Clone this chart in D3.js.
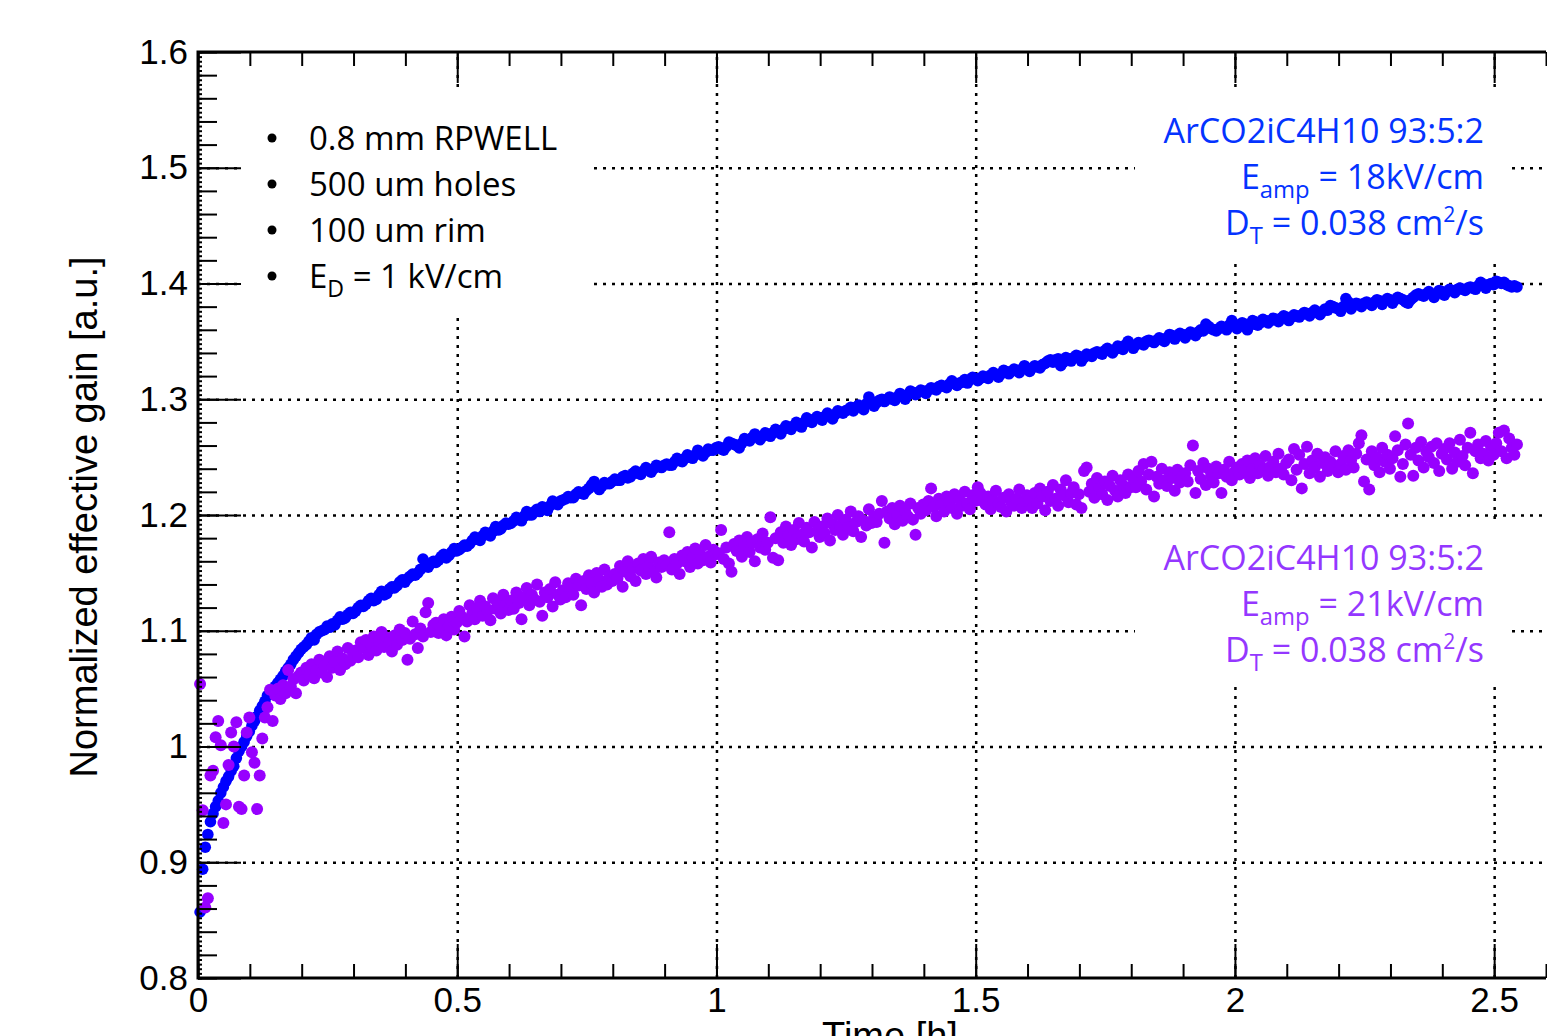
<!DOCTYPE html>
<html lang="en">
<head>
<meta charset="UTF-8">
<title>Normalized effective gain vs time</title>
<style>
  body { margin: 0; background: #fff; }
  svg { display: block; }
</style>
</head>
<body>
<script src="https://cdn.jsdelivr.net/npm/d3@7/dist/d3.min.js"></script>
<script>
// canvas
const width = 1547;
const height = 1036;

// sampling of the two runs (hours)
const blueStart = 0.004, blueStep = 0.005;
const purpleStart = 0.004, purpleStep = 0.005;

// normalized effective gain, E_amp = 18 kV/cm
const gain18 = [
  0.857,0.894,0.913,0.924,0.935,0.942,0.948,0.953,0.960,0.965,0.970,0.974,0.979,0.983,0.990,0.996,1.000,1.004,1.009,1.013,
  1.018,1.022,1.026,1.031,1.035,1.039,1.044,1.046,1.049,1.052,1.055,1.058,1.061,1.065,1.068,1.071,1.075,1.078,1.081,1.084,
  1.086,1.088,1.091,1.094,1.092,1.097,1.099,1.100,1.101,1.104,1.103,1.106,1.105,1.109,1.112,1.110,1.111,1.114,1.116,1.115,
  1.117,1.120,1.122,1.121,1.123,1.126,1.128,1.126,1.127,1.131,1.134,1.131,1.132,1.136,1.138,1.137,1.139,1.142,1.144,1.142,
  1.145,1.147,1.149,1.148,1.150,1.153,1.162,1.158,1.155,1.158,1.160,1.159,1.161,1.164,1.166,1.163,1.165,1.168,1.171,1.169,
  1.170,1.172,1.174,1.173,1.175,1.178,1.181,1.179,1.178,1.182,1.185,1.183,1.182,1.186,1.190,1.187,1.188,1.191,1.193,1.192,
  1.193,1.195,1.198,1.196,1.195,1.199,1.203,1.200,1.200,1.203,1.205,1.203,1.207,1.206,1.204,1.208,1.212,1.210,1.209,1.212,
  1.213,1.214,1.216,1.215,1.215,1.218,1.220,1.219,1.218,1.221,1.223,1.226,1.229,1.225,1.222,1.225,1.228,1.227,1.227,1.229,
  1.231,1.230,1.230,1.233,1.234,1.232,1.233,1.236,1.238,1.236,1.235,1.238,1.241,1.239,1.237,1.240,1.243,1.242,1.241,1.243,
  1.244,1.243,1.243,1.246,1.249,1.247,1.246,1.249,1.252,1.250,1.249,1.252,1.256,1.253,1.251,1.254,1.257,1.256,1.256,1.258,
  1.259,1.257,1.256,1.259,1.263,1.262,1.261,1.260,1.258,1.262,1.266,1.265,1.264,1.267,1.270,1.268,1.265,1.268,1.271,1.270,
  1.268,1.271,1.274,1.272,1.270,1.274,1.277,1.276,1.274,1.277,1.280,1.278,1.276,1.280,1.284,1.282,1.280,1.283,1.285,1.284,
  1.282,1.285,1.288,1.286,1.283,1.287,1.290,1.289,1.288,1.290,1.291,1.293,1.290,1.293,1.295,1.293,1.291,1.296,1.302,1.298,
  1.294,1.297,1.299,1.300,1.298,1.300,1.302,1.300,1.299,1.302,1.305,1.303,1.300,1.304,1.307,1.306,1.304,1.306,1.308,1.307,
  1.305,1.308,1.310,1.309,1.308,1.311,1.312,1.311,1.310,1.313,1.316,1.314,1.312,1.314,1.315,1.317,1.314,1.317,1.319,1.318,
  1.316,1.318,1.320,1.319,1.318,1.321,1.323,1.321,1.319,1.322,1.325,1.324,1.322,1.324,1.326,1.325,1.323,1.326,1.329,1.327,
  1.324,1.327,1.329,1.328,1.327,1.330,1.331,1.333,1.334,1.332,1.334,1.335,1.329,1.332,1.336,1.335,1.333,1.336,1.338,1.337,
  1.333,1.336,1.339,1.338,1.337,1.340,1.341,1.340,1.339,1.342,1.344,1.342,1.340,1.343,1.346,1.345,1.343,1.347,1.350,1.347,
  1.344,1.347,1.349,1.348,1.347,1.350,1.351,1.350,1.349,1.351,1.353,1.352,1.350,1.353,1.356,1.355,1.352,1.355,1.357,1.356,
  1.353,1.356,1.358,1.357,1.355,1.358,1.360,1.359,1.365,1.363,1.361,1.360,1.359,1.361,1.363,1.362,1.360,1.364,1.368,1.365,
  1.361,1.364,1.366,1.365,1.360,1.364,1.368,1.367,1.364,1.366,1.369,1.368,1.366,1.368,1.370,1.369,1.367,1.370,1.372,1.371,
  1.368,1.371,1.373,1.372,1.371,1.373,1.375,1.374,1.372,1.375,1.377,1.375,1.373,1.376,1.378,1.377,1.381,1.380,1.379,1.378,
  1.376,1.380,1.387,1.384,1.378,1.381,1.383,1.382,1.380,1.383,1.384,1.383,1.381,1.384,1.386,1.385,1.382,1.385,1.387,1.386,
  1.383,1.386,1.388,1.387,1.386,1.384,1.383,1.386,1.388,1.390,1.391,1.390,1.389,1.391,1.393,1.391,1.388,1.391,1.394,1.393,
  1.390,1.393,1.395,1.394,1.392,1.395,1.396,1.395,1.394,1.396,1.397,1.396,1.395,1.398,1.401,1.399,1.396,1.399,1.400,1.399,
  1.402,1.401,1.400,1.401,1.399,1.398,1.397,1.398,1.397
];

// normalized effective gain, E_amp = 21 kV/cm
const gain21 = [
  1.054,0.945,0.861,0.869,0.975,0.979,1.008,1.022,1.001,0.934,0.950,0.984,1.012,1.000,1.021,0.948,0.946,0.975,1.012,1.025,
  0.995,0.986,0.946,0.975,1.007,1.025,1.034,1.049,1.022,1.044,1.050,1.041,1.053,1.046,1.066,1.052,1.058,1.046,1.061,1.064,
  1.057,1.068,1.062,1.071,1.059,1.066,1.075,1.064,1.070,1.060,1.078,1.068,1.073,1.082,1.066,1.076,1.071,1.085,1.074,1.079,
  1.083,1.077,1.090,1.085,1.092,1.079,1.088,1.095,1.083,1.091,1.099,1.086,1.094,1.090,1.082,1.096,1.088,1.101,1.092,1.098,
  1.075,1.093,1.108,1.097,1.085,1.102,1.095,1.116,1.124,1.099,1.105,1.107,1.098,1.103,1.110,1.096,1.104,1.112,1.101,1.107,
  1.117,1.112,1.095,1.108,1.122,1.115,1.110,1.119,1.126,1.113,1.121,1.117,1.109,1.128,1.119,1.124,1.115,1.131,1.122,1.118,
  1.126,1.119,1.133,1.124,1.110,1.129,1.137,1.122,1.131,1.127,1.140,1.125,1.113,1.133,1.129,1.136,1.121,1.142,1.131,1.127,
  1.135,1.129,1.141,1.137,1.131,1.145,1.139,1.122,1.143,1.136,1.148,1.141,1.133,1.150,1.144,1.138,1.153,1.140,1.147,1.143,
  1.149,1.145,1.156,1.138,1.151,1.160,1.147,1.154,1.143,1.158,1.152,1.162,1.149,1.156,1.164,1.151,1.146,1.159,1.155,1.161,
  1.157,1.185,1.153,1.162,1.158,1.149,1.165,1.160,1.168,1.155,1.163,1.171,1.158,1.166,1.161,1.174,1.164,1.159,1.170,1.166,
  1.167,1.187,1.162,1.172,1.158,1.151,1.175,1.169,1.178,1.164,1.173,1.181,1.168,1.176,1.160,1.179,1.172,1.184,1.170,1.176,
  1.198,1.163,1.180,1.161,1.185,1.176,1.190,1.182,1.174,1.187,1.179,1.193,1.183,1.177,1.189,1.185,1.172,1.194,1.186,1.181,
  1.190,1.184,1.197,1.178,1.192,1.187,1.200,1.191,1.183,1.196,1.189,1.203,1.186,1.194,1.199,1.181,1.195,1.191,1.205,1.193,
  1.198,1.194,1.201,1.212,1.176,1.203,1.197,1.206,1.192,1.200,1.208,1.195,1.203,1.199,1.210,1.196,1.183,1.206,1.201,1.209,
  1.204,1.212,1.223,1.207,1.199,1.214,1.209,1.203,1.216,1.211,1.206,1.218,1.201,1.213,1.208,1.220,1.210,1.205,1.217,1.212,
  1.224,1.219,1.212,1.209,1.216,1.205,1.213,1.221,1.210,1.207,1.215,1.203,1.218,1.211,1.208,1.214,1.222,1.206,1.212,1.217,
  1.213,1.206,1.219,1.210,1.223,1.216,1.204,1.220,1.212,1.226,1.214,1.208,1.222,1.217,1.230,1.211,1.219,1.224,1.209,1.218,
  1.206,1.238,1.241,1.220,1.227,1.215,1.232,1.223,1.218,1.229,1.213,1.225,1.234,1.221,1.216,1.230,1.226,1.219,1.235,1.224,
  1.231,1.224,1.238,1.229,1.244,1.222,1.235,1.246,1.216,1.233,1.227,1.240,1.230,1.225,1.237,1.232,1.221,1.239,1.228,1.234,
  1.236,1.229,1.243,1.260,1.219,1.238,1.231,1.245,1.226,1.240,1.234,1.228,1.242,1.236,1.219,1.239,1.233,1.246,1.230,1.237,
  1.241,1.235,1.244,1.238,1.247,1.232,1.240,1.249,1.236,1.243,1.239,1.251,1.234,1.242,1.246,1.237,1.253,1.240,1.235,1.245,
  1.248,1.230,1.257,1.239,1.252,1.223,1.244,1.259,1.236,1.247,1.241,1.253,1.233,1.245,1.250,1.238,1.246,1.242,1.255,1.237,
  1.244,1.251,1.239,1.256,1.247,1.241,1.253,1.262,1.269,1.229,1.248,1.222,1.255,1.243,1.250,1.237,1.258,1.246,1.252,1.240,
  1.249,1.268,1.256,1.233,1.244,1.261,1.279,1.252,1.234,1.258,1.247,1.263,1.241,1.255,1.250,1.259,1.245,1.262,1.238,1.253,
  1.257,1.248,1.262,1.240,1.254,1.246,1.265,1.251,1.243,1.258,1.271,1.236,1.255,1.261,1.249,1.253,1.264,1.247,1.259,1.252,
  1.262,1.271,1.255,1.273,1.249,1.266,1.258,1.252,1.261
];

// axes
const xTicks = [0, 0.5, 1, 1.5, 2, 2.5];
const yTicks = [0.8, 0.9, 1.0, 1.1, 1.2, 1.3, 1.4, 1.5, 1.6];

// text
const notes = ['0.8 mm RPWELL', '500 um holes', '100 um rim', 'E_{D} = 1 kV/cm'];
const label18 = ['ArCO2iC4H10 93:5:2', 'E_{amp} = 18kV/cm', 'D_{T} = 0.038 cm^{2}/s'];
const label21 = ['ArCO2iC4H10 93:5:2', 'E_{amp} = 21kV/cm', 'D_{T} = 0.038 cm^{2}/s'];

const rootFont = "'Liberation Sans', Arial, Helvetica, sans-serif";
const officeFont = "'Open Sans', 'Noto Sans', sans-serif";

const svg = d3.select('body').append('svg')
  .attr('width', width)
  .attr('height', height);

const x = d3.scaleLinear().domain([0, 2.6]).range([198, 1546]);
const y = d3.scaleLinear().domain([0.8, 1.6]).range([978, 52]);

// dotted grid
const grid = svg.append('g');
grid.append('g')
  .attr('transform', `translate(0,${y(0.8)})`)
  .call(d3.axisBottom(x).tickValues(xTicks.slice(1)).tickSize(-(y(0.8) - y(1.6))).tickFormat(''));
grid.append('g')
  .attr('transform', `translate(${x(0)},0)`)
  .call(d3.axisLeft(y).tickValues(yTicks.slice(1, -1)).tickSize(-(x(2.6) - x(0))).tickFormat(''));
grid.selectAll('.domain').remove();
grid.selectAll('line')
  .attr('stroke', '#000')
  .attr('stroke-width', 2.5)
  .attr('stroke-dasharray', '3 6');

// white panes behind the text blocks
[[241, 88, 590, 316], [1135, 90, 1508, 264], [1135, 522, 1508, 684]].forEach(b => {
  svg.append('rect')
    .attr('x', b[0]).attr('y', b[1])
    .attr('width', b[2] - b[0]).attr('height', b[3] - b[1])
    .attr('fill', '#fff');
});

// points
const pts18 = gain18.map((v, i) => ({t: blueStart + i * blueStep, v}));
const pts21 = gain21.map((v, i) => ({t: purpleStart + i * purpleStep, v}));

svg.append('g').selectAll('circle')
  .data(pts18)
  .join('circle')
  .attr('cx', d => x(d.t))
  .attr('cy', d => y(d.v))
  .attr('r', 5.8)
  .attr('fill', '#0000ff');

svg.append('g').selectAll('circle')
  .data(pts21)
  .join('circle')
  .attr('cx', d => x(d.t))
  .attr('cy', d => y(d.v))
  .attr('r', 6)
  .attr('fill', '#9700ff');

// axes with major / minor ticks
const fmt = d => String(+d.toFixed(1));
const axes = svg.append('g').attr('font-family', rootFont);

function addAxis(gen, tr, values, size, labels) {
  const g = axes.append('g')
    .attr('transform', tr)
    .call(gen.tickValues(values).tickSizeInner(-size).tickSizeOuter(0)
      .tickPadding(labels ? 9 : 0).tickFormat(labels ? fmt : ''));
  g.select('.domain').remove();
  g.selectAll('line').attr('stroke', '#000').attr('stroke-width', 2);
  g.selectAll('text').attr('font-size', 35).attr('font-family', rootFont).attr('fill', '#000');
  return g;
}

const yMinor = d3.range(0, 41).map(i => 0.8 + i * 0.02);
const yTiny = d3.range(0, 201).map(i => 0.8 + i * 0.004);
const xMinor = d3.range(0, 27).map(i => i * 0.1);

addAxis(d3.axisLeft(y), `translate(${x(0)},0)`, yTiny, 4, false);
addAxis(d3.axisLeft(y), `translate(${x(0)},0)`, yMinor, 19, false);
addAxis(d3.axisLeft(y), `translate(${x(0)},0)`, yTicks, 43, true)
  .selectAll('text').attr('x', -10);

addAxis(d3.axisBottom(x), `translate(0,${y(0.8)})`, xMinor, 14, false);
addAxis(d3.axisBottom(x), `translate(0,${y(0.8)})`, xTicks, 34, true);
addAxis(d3.axisTop(x), `translate(0,${y(1.6)})`, xMinor, 14, false);
addAxis(d3.axisTop(x), `translate(0,${y(1.6)})`, xTicks, 31, false);

// frame
svg.append('path')
  .attr('d', `M${x(2.6)},${y(1.6)}H${x(0)}V${y(0.8)}H${x(2.6)}`)
  .attr('fill', 'none')
  .attr('stroke', '#000')
  .attr('stroke-width', 3);

// axis titles
svg.append('text')
  .attr('transform', `translate(97,${(y(0.8) + y(1.6)) / 2 + 2}) rotate(-90)`)
  .attr('text-anchor', 'middle')
  .attr('font-family', rootFont)
  .attr('font-size', 38)
  .text('Normalized effective gain [a.u.]');

svg.append('text')
  .attr('x', 890).attr('y', 1049)
  .attr('text-anchor', 'middle')
  .attr('font-family', rootFont)
  .attr('font-size', 38)
  .text('Time [h]');

// text with _{sub} and ^{sup}
function rich(sel, str, size) {
  const parts = str.split(/(_\{[^}]*\}|\^\{[^}]*\})/).filter(s => s);
  let shift = 0;
  parts.forEach(p => {
    if (p.startsWith('_{')) {
      const s = size * 0.26;
      sel.append('tspan').attr('dy', s - shift).attr('font-size', size * 0.7).text(p.slice(2, -1));
      shift = s;
    } else if (p.startsWith('^{')) {
      const s = -size * 0.38;
      sel.append('tspan').attr('dy', s - shift).attr('font-size', size * 0.62).text(p.slice(2, -1));
      shift = s;
    } else {
      sel.append('tspan').attr('dy', -shift).text(p);
      shift = 0;
    }
  });
}

const noteG = svg.append('g').attr('font-family', officeFont).attr('font-size', 33);
notes.forEach((n, i) => {
  noteG.append('circle')
    .attr('cx', 272).attr('cy', 138 + i * 46)
    .attr('r', 4.5)
    .attr('fill', '#000');
  rich(noteG.append('text').attr('x', 309).attr('y', 150 + i * 46), n, 33);
});

function block(lines, y0, color) {
  const g = svg.append('g')
    .attr('font-family', officeFont)
    .attr('font-size', 34)
    .attr('fill', color)
    .attr('text-anchor', 'end');
  lines.forEach((l, i) => {
    rich(g.append('text').attr('x', 1484).attr('y', y0 + i * 46), l, 34);
  });
}
block(label18, 143, '#0433ff');
block(label21, 570, '#9437ff');
</script>
</body>
</html>
